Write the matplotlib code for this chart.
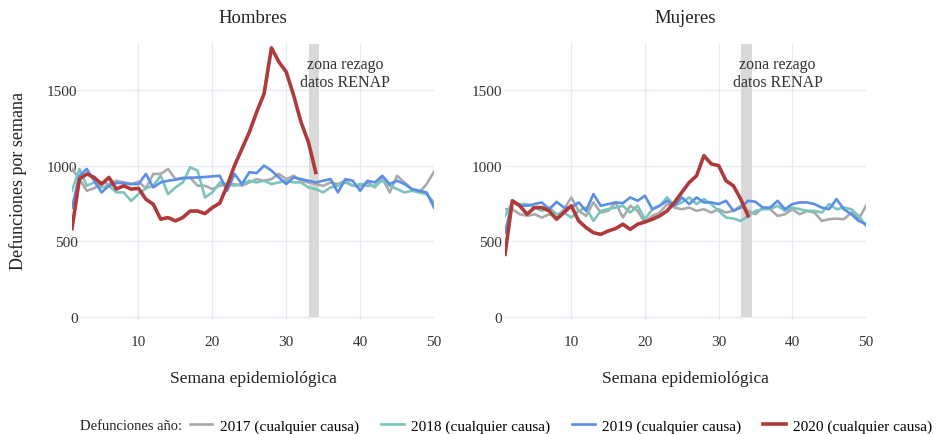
import numpy as np
import matplotlib.pyplot as plt

plt.rcParams['font.family'] = ['Liberation Serif', 'DejaVu Serif']

# semanas epidemiologicas
semanas = np.arange(1, 51)

# Hombres
h2017 = [978, 911, 834, 850, 889, 878, 900, 889, 878, 893, 850, 945, 945, 978, 911, 920, 920, 867, 867, 845,
         867, 878, 878, 867, 889, 911, 900, 911, 945, 911, 933, 900, 889, 878, 867, 889, 878, 900, 867, 867,
         889, 856, 920, 823, 933, 889, 845, 823, 878, 960]
h2018 = [834, 978, 867, 889, 856, 867, 823, 823, 767, 812, 850, 867, 933, 812, 856, 889, 989, 967, 790, 823,
         889, 878, 867, 878, 900, 889, 900, 878, 889, 900, 889, 889, 856, 845, 823, 856, 867, 889, 867, 878,
         867, 867, 900, 867, 845, 823, 834, 823, 812, 756]
h2019 = [723, 933, 978, 900, 823, 867, 885, 885, 878, 878, 945, 856, 889, 900, 907, 916, 920, 922, 925, 929,
         933, 834, 945, 878, 956, 951, 1000, 967, 922, 878, 922, 911, 900, 889, 900, 911, 823, 911, 900, 834,
         900, 889, 933, 878, 900, 878, 845, 834, 823, 723]
h2020 = [584, 911, 945, 922, 878, 922, 845, 867, 845, 850, 778, 745, 646, 657, 635, 657, 700, 700, 683, 723,
         752, 867, 1000, 1110, 1221, 1354, 1475, 1778, 1685, 1619, 1464, 1287, 1155, 955]

# Mujeres
m2017 = [712, 712, 679, 668, 679, 657, 679, 657, 712, 790, 701, 668, 757, 690, 701, 757, 657, 735, 701, 624,
         668, 690, 746, 723, 712, 723, 701, 712, 690, 712, 690, 701, 735, 701, 679, 723, 712, 668, 679, 712,
         679, 701, 690, 635, 646, 650, 646, 690, 646, 735]
m2018 = [668, 757, 746, 746, 723, 701, 723, 679, 690, 657, 701, 723, 635, 701, 712, 723, 735, 690, 735, 646,
         712, 735, 790, 735, 757, 790, 746, 779, 746, 701, 657, 650, 635, 668, 701, 712, 712, 735, 701, 723,
         712, 701, 701, 690, 746, 712, 723, 712, 668, 602]
m2019 = [557, 768, 735, 735, 746, 757, 712, 761, 723, 723, 757, 701, 812, 735, 746, 757, 752, 790, 768, 801,
         712, 735, 768, 735, 790, 746, 790, 757, 757, 746, 768, 701, 723, 768, 761, 723, 723, 768, 712, 746,
         757, 757, 746, 723, 712, 779, 712, 679, 635, 613]
m2020 = [414, 768, 735, 679, 723, 723, 701, 646, 690, 735, 635, 591, 557, 546, 568, 584, 613, 579, 613, 628,
         646, 668, 701, 757, 823, 889, 933, 1066, 1011, 1000, 900, 867, 779, 668]

etiquetas = ['2017 (cualquier causa)', '2018 (cualquier causa)', '2019 (cualquier causa)', '2020 (cualquier causa)']
colores = ['#aaaaaa', '#7cc4be', '#5b8ee6', '#b03a3a']

fig = plt.figure(figsize=(9.4, 4.35), dpi=100)
ax1 = fig.add_axes([72 / 940, 0.2602, (434 - 72) / 940, 0.8989 - 0.2602])
ax2 = fig.add_axes([505 / 940, 0.2602, (866 - 505) / 940, 0.8989 - 0.2602])

paneles = [(ax1, 'Hombres', [h2017, h2018, h2019, h2020], -4),
           (ax2, 'Mujeres', [m2017, m2018, m2019, m2020], 2)]

for ax, titulo, series, ypad in paneles:
    ax.fill_betweenx([0, 1800], 33.1, 34.5, color='#d9d9d9', zorder=1, lw=0)
    for i, (s, c) in enumerate(zip(series, colores)):
        lw = 2.6 if i == 3 else 1.9
        ax.plot(semanas[:len(s)], s, color=c, lw=lw, label=etiquetas[i], zorder=2 + i)
    ax.text(38, 1610, 'zona rezago\ndatos RENAP', ha='center', va='center', fontsize=11.5, color='#333333',
            linespacing=1.2, zorder=10)
    ax.set_xlim(1, 50)
    ax.set_ylim(-25, 1810)
    ax.set_xticks([10, 20, 30, 40, 50])
    ax.set_yticks([0, 500, 1000, 1500])
    ax.grid(color='#e6ebf3', lw=0.9)
    ax.set_axisbelow(True)
    for sp in ax.spines.values():
        sp.set_visible(False)
    ax.tick_params(axis='x', length=0, labelsize=11, colors='#333333', pad=10)
    ax.tick_params(axis='y', length=0, labelsize=11, colors='#333333', pad=ypad)
    ax.set_title(titulo, fontsize=13.5, pad=15, color='#222222')
    ax.set_xlabel('Semana epidemiológica', fontsize=12.5, labelpad=16, color='#222222')

fig.text(18 / 940, 1 - 181 / 435, 'Defunciones por semana', rotation=90, fontsize=13, ha='center', va='center',
         color='#222222')

fig.text(80 / 940, 1 - 427 / 435, 'Defunciones año:', fontsize=10.5, va='center', color='#222222')
handles, labels = ax1.get_legend_handles_labels()
fig.legend(handles, labels, loc='center', bbox_to_anchor=(561 / 940, 1 - 427 / 435), ncol=4, frameon=False,
           fontsize=11, handlelength=1.5, columnspacing=1.4, handletextpad=0.5)

fig.savefig('out.png', dpi=100)
